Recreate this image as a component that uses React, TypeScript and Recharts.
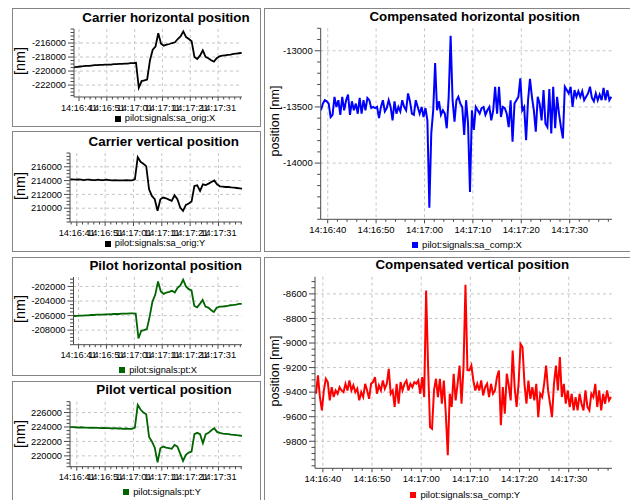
import React from "react";
import { LineChart, Line, XAxis, YAxis, CartesianGrid, Legend } from "recharts";

const FONT = '"Liberation Sans", Arial, sans-serif';

// seconds after 14:16:00
const leftTimes = [
  38.5, 39.5, 40.5, 41.5, 42.5, 43.5, 44.5, 45.5, 46.5, 47.5,
  48.5, 49.5, 50.5, 51.5, 52.5, 53.5, 54.5, 55.5, 56.5, 57.5,
  58.5, 59.5, 60.5, 61.5, 62.5, 63.5, 64.5, 65.5, 66.5, 67.5,
  68.5, 69.5, 70.5, 71.5, 72.5, 73.5, 74.5, 75.5, 76.5, 77.5,
  78.5, 79.5, 80.5, 81.5, 82.5, 83.5, 84.5, 85.5, 86.5, 87.5,
  88.5, 89.5, 90.5, 91.5, 92.5, 93.5, 94.5, 95.5, 96.5, 97.5,
  98.5, 99.5,
];

const carrierX = [
  -219480, -219450, -219400, -219350, -219310, -219260, -219260, -219210, -219160, -219160,
  -219120, -219120, -219070, -219070, -219070, -219020, -219020, -218980, -218980, -218930,
  -218930, -218880, -218880, -218830, -222380, -221430, -221340, -221200, -218500, -216950,
  -216500, -214600, -216090, -216380, -216240, -216140, -216000, -215900, -215430, -215050,
  -214350, -215150, -215430, -215760, -217980, -218270, -217800, -217040, -217980, -218170,
  -218460, -218650, -218170, -217890, -217800, -217750, -217700, -217650, -217560, -217510,
  -217460, -217420,
];

const carrierY = [
  214180, 214180, 214130, 214180, 214130, 214080, 214130, 214130, 214080, 214080,
  214130, 214080, 214080, 214130, 214080, 214030, 214080, 214030, 214030, 214030,
  214080, 214030, 214030, 214180, 217390, 216720, 216430, 216100, 212740, 211780,
  211300, 209620, 211300, 211540, 211440, 211250, 211060, 211870, 211300, 210100,
  209620, 210480, 210670, 210960, 213220, 213310, 212500, 213460, 213360, 213560,
  213800, 214030, 213460, 213170, 213120, 213070, 213070, 213020, 212980, 212930,
  212880, 212830,
];

const pilotX = [
  -206080, -206060, -206050, -206010, -206000, -205970, -205960, -205920, -205920, -205880,
  -205870, -205870, -205830, -205830, -205820, -205780, -205780, -205780, -205740, -205740,
  -205730, -205690, -205690, -205720, -209150, -208090, -208000, -207860, -206150, -204080,
  -203150, -201310, -202690, -203020, -202830, -202740, -202600, -202830, -202180, -201860,
  -201080, -202000, -202370, -202550, -204680, -204860, -204400, -203850, -204770, -204910,
  -205230, -205510, -204910, -204770, -204770, -204720, -204680, -204580, -204540, -204490,
  -204400, -204400,
];

const pilotY = [
  223970, 223970, 223960, 223920, 223960, 223920, 223910, 223880, 223920, 223870,
  223870, 223830, 223870, 223830, 223830, 223790, 223830, 223790, 223790, 223740,
  223790, 223740, 223740, 223920, 227060, 226420, 226000, 225770, 222630, 221990,
  221150, 219120, 221060, 221290, 221150, 221060, 220970, 221520, 221290, 220320,
  219310, 220140, 220460, 220600, 223000, 223190, 223000, 221750, 223000, 223190,
  223550, 223830, 223320, 223190, 223090, 223050, 223000, 222950, 222910, 222860,
  222820, 222770,
];

const compTimes = [
  38.6, 39.0, 39.4, 39.8, 40.2, 40.6, 41.0, 41.4, 41.8, 42.2,
  42.6, 43.0, 43.4, 43.8, 44.2, 44.6, 45.0, 45.4, 45.8, 46.2,
  46.6, 47.0, 47.4, 47.8, 48.2, 48.6, 49.0, 49.4, 49.8, 50.2,
  50.6, 51.0, 51.4, 51.8, 52.2, 52.6, 53.0, 53.4, 53.8, 54.2,
  54.6, 55.0, 55.4, 55.8, 56.2, 56.6, 57.0, 57.4, 57.8, 58.2,
  58.6, 59.0, 59.4, 59.8, 60.2, 60.6, 61.0, 61.4, 61.8, 62.2,
  62.6, 63.0, 63.4, 63.8, 64.2, 64.6, 65.0, 65.4, 65.8, 66.2,
  66.6, 67.0, 67.4, 67.8, 68.2, 68.6, 69.0, 69.4, 69.8, 70.2,
  70.6, 71.0, 71.4, 71.8, 72.2, 72.6, 73.0, 73.4, 73.8, 74.2,
  74.6, 75.0, 75.4, 75.8, 76.2, 76.6, 77.0, 77.4, 77.8, 78.2,
  78.6, 79.0, 79.4, 79.8, 80.2, 80.6, 81.0, 81.4, 81.8, 82.2,
  82.6, 83.0, 83.4, 83.8, 84.2, 84.6, 85.0, 85.4, 85.8, 86.2,
  86.6, 87.0, 87.4, 87.8, 88.2, 88.6, 89.0, 89.4, 89.8, 90.2,
  90.6, 91.0, 91.4, 91.8, 92.2, 92.6, 93.0, 93.4, 93.8, 94.2,
  94.6, 95.0, 95.4, 95.8, 96.2, 96.6, 97.0, 97.4, 97.8, 98.2,
  98.6,
];

const compX = [
  -13530, -13470, -13440, -13450, -13470, -13590, -13570, -13410, -13500, -13440,
  -13570, -13410, -13530, -13440, -13390, -13570, -13450, -13530, -13470, -13560,
  -13420, -13560, -13440, -13530, -13420, -13440, -13510, -13500, -13510, -13500,
  -13600, -13500, -13440, -13540, -13510, -13440, -13500, -13620, -13450, -13560,
  -13500, -13540, -13440, -13500, -13530, -13380, -13450, -13560, -13570, -13440,
  -13500, -13560, -13500, -13590, -13510, -13620, -14396, -13735, -13530, -13110,
  -13530, -13450, -13570, -13530, -13560, -13690, -13410, -12866, -13437, -13630,
  -13440, -13410, -13470, -13500, -13750, -13440, -13650, -14256, -13530, -13705,
  -13500, -13530, -13560, -13510, -13500, -13570, -13530, -13500, -13620, -13530,
  -13320, -13560, -13320, -13590, -13500, -13510, -13560, -13680, -13440, -13810,
  -13470, -13440, -13410, -13245, -13530, -13500, -13795, -13440, -13250, -13410,
  -13530, -13720, -13410, -13470, -13620, -13350, -13650, -13680, -13340, -13735,
  -13320, -13690, -13410, -13560, -13680, -13780, -13320, -13350, -13380, -13320,
  -13500, -13350, -13410, -13360, -13410, -13360, -13440, -13410, -13380, -13320,
  -13420, -13450, -13380, -13440, -13390, -13440, -13330, -13440, -13350, -13440,
  -13410,
];

const compY = [
  -9413, -9264, -9440, -9549, -9386, -9291, -9318, -9467, -9359, -9440,
  -9386, -9413, -9359, -9386, -9400, -9332, -9386, -9305, -9386, -9345,
  -9400, -9372, -9467, -9400, -9440, -9332, -9386, -9454, -9332, -9318,
  -9278, -9413, -9345, -9386, -9305, -9372, -9332, -9210, -9413, -9386,
  -9521, -9332, -9494, -9318, -9386, -9332, -9305, -9386, -9332, -9359,
  -9318, -9332, -9305, -9413, -9278, -9440, -8573, -9196, -9684, -9698,
  -9386, -9291, -9440, -9291, -9494, -9305, -9576, -9914, -9413, -9521,
  -9250, -9467, -9332, -9183, -9494, -9196, -8525, -9220, -9223, -9183,
  -9305, -9386, -9332, -9386, -9305, -9427, -9359, -9332, -9440, -9332,
  -9413, -9386, -9278, -9223, -9670, -9359, -9576, -9250, -9345, -9467,
  -9061, -9359, -9521, -9332, -9007, -9034, -9332, -9494, -9305, -9454,
  -9359, -9467, -9332, -9603, -9413, -9440, -9332, -9183, -9386, -9494,
  -9603, -9332, -9183, -9386, -9115, -9440, -9332, -9494, -9386, -9521,
  -9413, -9549, -9440, -9549, -9413, -9494, -9549, -9386, -9521, -9549,
  -9413, -9440, -9332, -9521, -9386, -9549, -9413, -9494, -9386, -9467,
  -9440,
];

// major tick values
const leftTimeTicks = [41, 51, 61, 71, 81, 91];
const rightTimeTicks = [40, 50, 60, 70, 80, 90];
const carrierXTicks = [-222000, -220000, -218000, -216000];
const carrierYTicks = [210000, 212000, 214000, 216000];
const pilotXTicks = [-208000, -206000, -204000, -202000];
const pilotYTicks = [220000, 222000, 224000, 226000];
const compXTicks = [-14000, -13500, -13000];
const compYTicks = [-9800, -9600, -9400, -9200, -9000, -8800, -8600];

const stepTicks = (lo: number, hi: number, anchor: number, step: number) => {
  const out: number[] = [];
  let v = anchor - Math.floor((anchor - lo) / step) * step;
  for (; v <= hi + 1e-6; v += step) out.push(Math.round(v * 1000) / 1000);
  return out;
};

const fmtTime = (v: number) => {
  const s = Math.round(v);
  const m = 16 + Math.floor(s / 60);
  const ss = s % 60;
  return `14:${m}:${ss < 10 ? "0" + ss : ss}`;
};

const AXIS = "#4a4a4a";

function Panel(p: any) {
  const data = p.times.map((t: number, i: number) => ({ t, v: p.values[i] }));
  const xTicks = stepTicks(p.xDomain[0], p.xDomain[1], p.xMajor[0], 2);
  const yTicks = stepTicks(p.yDomain[0], p.yDomain[1], p.yMajor[0], p.yMinor);
  const fs = p.fontSize;

  const renderXTick = (t: any) => {
    const major = p.xMajor.includes(t.payload.value);
    return (
      <g>
        <line x1={t.x} x2={t.x} y1={t.y} y2={t.y + (major ? 4 : 2.5)} stroke={AXIS} />
        {major && (
          <text x={t.x} y={t.y + p.xLabelDy} textAnchor="middle" fontSize={fs} fill="#000" fontFamily={FONT}>
            {fmtTime(t.payload.value)}
          </text>
        )}
      </g>
    );
  };

  const renderYTick = (t: any) => {
    const major = p.yMajor.includes(t.payload.value);
    return (
      <g>
        <line x1={t.x} x2={t.x - (major ? 6 : 3.5)} y1={t.y} y2={t.y} stroke={AXIS} />
        {major && (
          <text x={t.x - 8} y={t.y} dy="0.35em" textAnchor="end" fontSize={fs} fill="#000" fontFamily={FONT}>
            {t.payload.value}
          </text>
        )}
      </g>
    );
  };

  return (
    <div style={{ position: "absolute", left: p.left, top: p.top, width: p.width, height: p.height }}>
      <div style={{ position: "absolute", inset: 0, border: "1px solid #858585", boxSizing: "border-box" }} />
      <div
        style={{
          position: "absolute", left: p.titleX, top: p.titleY, transform: "translate(-50%, -50%)",
          fontWeight: "bold", fontSize: p.titleSize, lineHeight: 1, whiteSpace: "nowrap", color: "#000",
        }}
      >
        {p.title}
      </div>
      <div
        style={{
          position: "absolute", left: p.yLabelX, top: p.yLabelY,
          transform: "translate(-50%, -50%) rotate(-90deg)",
          fontSize: p.yLabelSize, lineHeight: 1, whiteSpace: "nowrap", color: "#000",
        }}
      >
        {p.yLabel}
      </div>
      <div style={{ position: "absolute", left: 0, top: 0 }}>
        <LineChart
          width={p.width}
          height={p.height}
          data={data}
          margin={{ top: p.plotTop, right: p.width - p.plotRight, bottom: p.height - p.axisY - 24, left: 0 }}
        >
          <CartesianGrid stroke="#c6c6c6" strokeDasharray="3 3" horizontalValues={p.yMajor} verticalValues={p.xMajor} />
          <XAxis
            dataKey="t"
            type="number"
            domain={p.xDomain}
            allowDataOverflow
            ticks={xTicks}
            interval={0}
            tickSize={0}
            tickMargin={0}
            tickLine={false}
            height={24}
            stroke={AXIS}
            tick={renderXTick}
          />
          <YAxis
            type="number"
            domain={p.yDomain}
            allowDataOverflow
            ticks={yTicks}
            interval={0}
            tickSize={0}
            tickMargin={0}
            tickLine={false}
            width={p.plotLeft}
            stroke={AXIS}
            tick={renderYTick}
          />
          <Legend
            iconType="square"
            iconSize={6}
            formatter={(value: any) => <span style={{ color: "#000" }}>{value}</span>}
            wrapperStyle={{
              top: p.legendY - 7, left: p.legendX - 145, width: 300, height: 0, bottom: "auto",
              fontSize: fs, lineHeight: "14px", fontFamily: FONT,
            }}
          />
          <Line
            type="linear"
            dataKey="v"
            name={p.name}
            stroke={p.color}
            strokeWidth={p.strokeWidth}
            dot={false}
            activeDot={false}
            isAnimationActive={false}
          />
        </LineChart>
      </div>
    </div>
  );
}

const leftCommon = { width: 249, fontSize: 9.3, titleSize: 13.4, yLabel: "[nm]", yLabelSize: 14.5, xLabelDy: 13.5, xMajor: leftTimeTicks, times: leftTimes, strokeWidth: 1.8, plotRight: 230, yMinor: 500 };
const rightCommon = { width: 370, fontSize: 9.5, titleSize: 13.3, yLabel: "position [nm]", yLabelSize: 12.5, xLabelDy: 14, xMajor: rightTimeTicks, times: compTimes, strokeWidth: 2, plotRight: 348 };

export default function App() {
  return (
    <div style={{ position: "absolute", left: 0, top: 0, width: 630, height: 500, overflow: "hidden", background: "#fff", fontFamily: FONT }}>
      <Panel
        {...leftCommon}
        left={12} top={8} height={119}
        plotLeft={62} plotTop={21} axisY={89} xDomain={[39.2, 99.6]}
        title="Carrier horizontal position" titleX={154} titleY={9.5}
        yLabelX={8} yLabelY={53} legendX={153} legendY={110}
        yDomain={[-223700, -214000]} yMajor={carrierXTicks}
        values={carrierX} name="pilot:signals:sa_orig:X" color="#000000"
      />
      <Panel
        {...leftCommon}
        left={12} top={131} height={121}
        plotLeft={58} plotTop={22} axisY={91} xDomain={[38.6, 99.3]}
        title="Carrier vertical position" titleX={151.7} titleY={11}
        yLabelX={8} yLabelY={54.5} legendX={143} legendY={112}
        yDomain={[208000, 218000]} yMajor={carrierYTicks}
        values={carrierY} name="pilot:signals:sa_orig:Y" color="#000000"
      />
      <Panel
        {...leftCommon}
        left={12} top={257} height={119}
        plotLeft={61.5} plotTop={20} axisY={87.7} xDomain={[39.2, 99.6]}
        title="Pilot horizontal position" titleX={153.7} titleY={8.7}
        yLabelX={8} yLabelY={51.7} legendX={146} legendY={112.7}
        yDomain={[-210000, -200700]} yMajor={pilotXTicks}
        values={pilotX} name="pilot:signals:pt:X" color="#006400"
      />
      <Panel
        {...leftCommon}
        left={12} top={381} height={125}
        plotLeft={58} plotTop={20.7} axisY={85.7} xDomain={[38.6, 99.3]}
        title="Pilot vertical position" titleX={152} titleY={9}
        yLabelX={8} yLabelY={53} legendX={150} legendY={110.7}
        yDomain={[218500, 227500]} yMajor={pilotYTicks}
        values={pilotY} name="pilot:signals:pt:Y" color="#006400"
      />
      <Panel
        {...rightCommon}
        left={264} top={8} height={244}
        plotLeft={56.7} plotTop={20.3} axisY={211.3} xDomain={[38.55, 98.75]}
        title="Compensated horizontal position" titleX={210.7} titleY={8.7}
        yLabelX={11.3} yLabelY={113.3} legendX={203} legendY={237}
        yDomain={[-14500, -12800]} yMajor={compXTicks} yMinor={100}
        values={compX} name="pilot:signals:sa_comp:X" color="#0000ff"
      />
      <Panel
        {...rightCommon}
        left={264} top={257} height={250}
        plotLeft={51} plotTop={19.7} axisY={211.3} xDomain={[38.4, 98.8]}
        title="Compensated vertical position" titleX={208.3} titleY={8}
        yLabelX={10.5} yLabelY={113.8} legendX={201.3} legendY={238}
        yDomain={[-10020, -8460]} yMajor={compYTicks} yMinor={50}
        values={compY} name="pilot:signals:sa_comp:Y" color="#ff0000"
      />
    </div>
  );
}
